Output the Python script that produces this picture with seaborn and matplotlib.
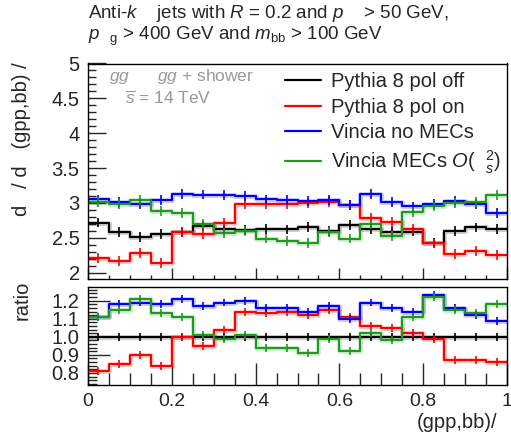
# Step histograms of the gpp,bb distribution with ratio panel
import numpy as np
import pandas as pd
import matplotlib
matplotlib.use("Agg")
import matplotlib.pyplot as plt
from matplotlib.lines import Line2D
from matplotlib.ticker import MultipleLocator, FixedLocator
import seaborn as sns

## Data (20 bins of 0.05)
bin_edges = [0.00, 0.05, 0.10, 0.15, 0.20, 0.25, 0.30, 0.35, 0.40, 0.45, 0.50,
             0.55, 0.60, 0.65, 0.70, 0.75, 0.80, 0.85, 0.90, 0.95, 1.00]
series_names = ["Pythia 8 pol off", "Pythia 8 pol on", "Vincia no MECs", "Vincia MECs"]
pol_off = [2.72, 2.58, 2.51, 2.56, 2.58, 2.67, 2.62, 2.61, 2.63, 2.62,
           2.66, 2.60, 2.68, 2.63, 2.58, 2.59, 2.43, 2.60, 2.65, 2.63]
pol_on = [2.21, 2.17, 2.28, 2.14, 2.58, 2.55, 2.72, 2.99, 2.98, 2.99,
          3.00, 3.01, 2.97, 2.79, 2.73, 2.63, 2.42, 2.27, 2.31, 2.25]
vin_nomec = [3.05, 3.01, 2.99, 3.04, 3.13, 3.12, 3.11, 3.10, 3.05, 3.04,
             3.03, 3.04, 2.97, 3.13, 3.01, 2.95, 2.98, 3.03, 2.99, 2.86]
vin_mec = [3.01, 2.98, 3.04, 2.88, 2.86, 2.70, 2.57, 2.60, 2.49, 2.46,
           2.43, 2.58, 2.49, 2.70, 2.53, 2.87, 2.95, 3.00, 3.01, 3.11]
# ratios to Pythia pol off
r_off = [1.00, 1.00, 1.00, 1.00, 1.00, 1.00, 1.00, 1.00, 1.00, 1.00,
         1.00, 1.00, 1.00, 1.00, 1.00, 1.00, 1.00, 1.00, 1.00, 1.00]
r_on = [0.81, 0.85, 0.90, 0.84, 1.00, 0.95, 1.04, 1.14, 1.13, 1.14,
        1.12, 1.15, 1.11, 1.06, 1.05, 1.02, 0.99, 0.87, 0.87, 0.86]
r_nomec = [1.11, 1.18, 1.19, 1.18, 1.21, 1.17, 1.19, 1.20, 1.16, 1.16,
           1.14, 1.17, 1.10, 1.19, 1.16, 1.14, 1.23, 1.16, 1.12, 1.09]
r_mec = [1.11, 1.15, 1.21, 1.13, 1.11, 1.01, 0.99, 1.01, 0.94, 0.94,
         0.91, 0.99, 0.92, 1.02, 0.98, 1.11, 1.22, 1.15, 1.13, 1.18]
err_main, err_ratio = 0.07, 0.022

colors = ["#000000", "#ff0000", "#0000ff", "#1f9a1f"]
legend_labels = ["Pythia 8 pol off", "Pythia 8 pol on", "Vincia no MECs",
                 r"Vincia MECs $O$(  $^{2}_{s}$)"]

## Style
sns.set_style("ticks")
plt.rcParams["font.family"] = ["Liberation Sans", "DejaVu Sans"]
plt.rcParams["mathtext.fontset"] = "custom"
plt.rcParams["mathtext.rm"] = "Liberation Sans"
plt.rcParams["mathtext.it"] = "Liberation Sans:italic"
plt.rcParams["mathtext.bf"] = "Liberation Sans:bold"
plt.rcParams["axes.linewidth"] = 1.0

W, H = 511, 438
fig = plt.figure(figsize=(W / 100, H / 100), dpi=100)
def frac(l, t, r, b):
    return [l / W, 1 - b / H, (r - l) / W, (b - t) / H]
ax = fig.add_axes(frac(88, 63.5, 507, 279))
axr = fig.add_axes(frac(88, 287, 507, 385))

edges = np.array(bin_edges)
centers = (edges[:-1] + edges[1:]) / 2

def long_df(arrays):
    rows = []
    for name, vals in zip(series_names, arrays):
        ys = list(vals) + [vals[-1]]  # repeat last so the final step is drawn
        for x, y in zip(edges, ys):
            rows.append({"x": x, "y": y, "series": name})
    return pd.DataFrame(rows)

def draw_panel(a, arrays, err):
    df = long_df(arrays)
    pal = dict(zip(series_names, colors))
    # soft halo under the steps
    sns.lineplot(data=df, x="x", y="y", hue="series", palette=pal, estimator=None,
                 sort=False, drawstyle="steps-post", lw=3.4, alpha=0.22, legend=False, ax=a)
    sns.lineplot(data=df, x="x", y="y", hue="series", palette=pal, estimator=None,
                 sort=False, drawstyle="steps-post", lw=1.5, legend=False, ax=a)
    for vals, c in zip(arrays, colors):
        a.errorbar(centers, vals, yerr=err, fmt="none", ecolor=c, elinewidth=1.2, capsize=0)
    a.set_xlim(0, 1)
    a.set_xlabel("")
    a.set_ylabel("")
    for s in a.spines.values():
        s.set_visible(True)
        s.set_color("black")

draw_panel(ax, [pol_off, pol_on, vin_nomec, vin_mec], err_main)
draw_panel(axr, [r_off, r_on, r_nomec, r_mec], err_ratio)

# main panel axes
ax.set_ylim(1.91, 5.0)
ax.yaxis.set_major_locator(MultipleLocator(0.5))
ax.yaxis.set_minor_locator(MultipleLocator(0.1))
ax.set_yticklabels([("%g" % v) for v in ax.get_yticks()])
ax.xaxis.set_major_locator(MultipleLocator(0.2))
ax.xaxis.set_minor_locator(MultipleLocator(0.05))
ax.tick_params(axis="x", which="both", direction="in", labelbottom=False, top=False)
ax.tick_params(axis="x", which="major", length=8, width=1)
ax.tick_params(axis="x", which="minor", length=3, width=1)
ax.tick_params(axis="y", which="both", direction="in", right=False, labelsize=14.5, pad=6)
ax.tick_params(axis="y", which="major", length=13, width=1)
ax.tick_params(axis="y", which="minor", length=6, width=1)

# ratio panel axes
axr.set_ylim(0.733, 1.276)
axr.yaxis.set_major_locator(FixedLocator([0.8, 0.9, 1.0, 1.1, 1.2]))
axr.yaxis.set_minor_locator(MultipleLocator(0.02))
axr.set_yticklabels(["0.8", "0.9", "1.0", "1.1", "1.2"])
axr.xaxis.set_major_locator(MultipleLocator(0.2))
axr.xaxis.set_minor_locator(MultipleLocator(0.05))
axr.set_xticklabels([("%g" % v) for v in axr.get_xticks()])
axr.tick_params(axis="x", which="both", direction="in", top=False, labelsize=14, pad=6)
axr.tick_params(axis="x", which="major", length=16, width=1)
axr.tick_params(axis="x", which="minor", length=9, width=1)
axr.tick_params(axis="y", which="both", direction="in", right=False, labelsize=14.5, pad=6)
axr.tick_params(axis="y", which="major", length=6.5, width=1)
axr.tick_params(axis="y", which="minor", length=6.5, width=1)
for t, v in zip(axr.yaxis.get_major_ticks(), [0.8, 0.9, 1.0, 1.1, 1.2]):
    if v in (0.9, 1.2):
        t.tick1line.set_markersize(16)

# legend
handles = [Line2D([], [], color=c, lw=1.6) for c in colors]
ax.legend(handles, legend_labels, loc="upper left", bbox_to_anchor=(0.47, 0.96),
          frameon=False, fontsize=14.5, handlelength=1.8, handletextpad=0.5,
          labelspacing=0.32, borderpad=0, borderaxespad=0)

# process text inside the plot
gray = "#999999"
fig.text(109 / W, 1 - 76 / H, r"$gg$      $gg$ + shower", color=gray, fontsize=12.5,
         ha="left", va="center")
fig.text(125 / W, 1 - 98 / H, r"$\overline{s}$ = 14 TeV", color=gray, fontsize=12.5,
         ha="left", va="center")

# header above the plot
fig.text(88 / W, 1 - 14 / H, r"Anti-$k$    jets with $R$ = 0.2 and $p$    > 50 GeV,",
         fontsize=13.5, ha="left", va="center")
fig.text(88 / W, 1 - 36 / H, r"$p_{\quad\mathrm{g}}$ > 400 GeV and $m_{\mathrm{bb}}$ > 100 GeV",
         fontsize=13.5, ha="left", va="center")

# axis titles
fig.text(22 / W, 1 - 62 / H, "d   / d   (gpp,bb) /", rotation=90, fontsize=14.5,
         ha="center", va="top")
fig.text(22 / W, 1 - 281 / H, "ratio", rotation=90, fontsize=14.5, ha="center", va="top")
fig.text(497 / W, 1 - 423 / H, "(gpp,bb)/", fontsize=14.5, ha="right", va="center")

fig.savefig("out.png", dpi=100)
